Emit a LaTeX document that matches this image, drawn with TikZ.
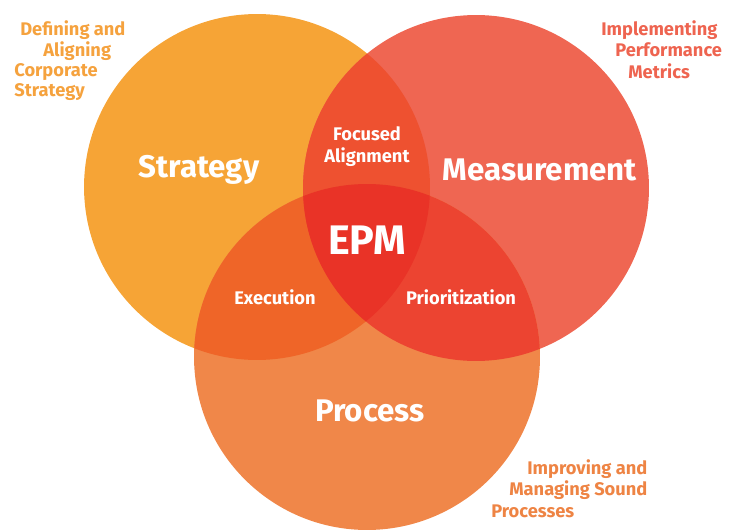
\documentclass[tikz,border=0pt]{standalone}
\usepackage{fontspec}
\setmainfont{Fira Sans}
\usetikzlibrary{positioning}
\definecolor{stratorange}{HTML}{F6A436}
\definecolor{measred}{HTML}{EF6652}
\definecolor{procorange}{HTML}{F08749}
\definecolor{focusred}{HTML}{EE5130}
\definecolor{execorange}{HTML}{EF6528}
\definecolor{priored}{HTML}{EC4431}
\definecolor{epmred}{HTML}{E93327}
\definecolor{strattext}{HTML}{F5A23E}
\definecolor{meastext}{HTML}{EE6450}
\definecolor{proctext}{HTML}{EE8444}

\begin{document}
\begin{tikzpicture}[
    x=0.02cm, y=-0.02cm,
    every node/.style={font=\bfseries, inner sep=0pt},
    bigname/.style={text=white, font=\bfseries\fontsize{17.8}{20}\selectfont},
    overlap/.style={text=white, font=\bfseries\fontsize{10.4}{12.5}\selectfont, align=center},
    note/.style={font=\bfseries\fontsize{10.4}{12}\selectfont, anchor=west}
]
    \useasboundingbox (0,0) rectangle (729,530);

    % circle centres
    \coordinate (S) at (257,187);
    \coordinate (M) at (476,188);
    \coordinate (P) at (367,357);

    % the three sets
    \fill[stratorange] (S) circle (3.46cm);
    \fill[measred] (M) circle (3.46cm);
    \fill[procorange] (P) circle (3.46cm);

    % pairwise overlaps
    \begin{scope}
        \clip (S) circle (3.46cm);
        \fill[focusred] (M) circle (3.46cm);
        \fill[execorange] (P) circle (3.46cm);
    \end{scope}
    \begin{scope}
        \clip (M) circle (3.46cm);
        \fill[priored] (P) circle (3.46cm);
    \end{scope}

    % centre where all three meet
    \begin{scope}
        \clip (S) circle (3.46cm);
        \clip (M) circle (3.46cm);
        \fill[epmred] (P) circle (3.46cm);
    \end{scope}

    % labels inside
    \node[bigname] (strategy) at (199,170) {Strategy};
    \node[bigname] (measurement) at (540,170) {Measurement};
    \node[bigname] (process) at (370,411) {Process};
    \node[text=white, font=\bfseries\fontsize{23.5}{26}\selectfont] (epm) at (367,240) {EPM};
    \node[overlap] (focused) at (367,147) {Focused\\Alignment};
    \node[overlap] (execution) at (275,297) {Execution};
    \node[overlap] (prioritization) at (461,297) {Prioritization};

    % notes outside
    \node[note, text=strattext] (def1) at (20,30) {Defining and};
    \node[note, text=strattext] (def2) at (43,51) {Aligning};
    \node[note, text=strattext] (def3) at (14,72) {Corporate};
    \node[note, text=strattext] (def4) at (14,92) {Strategy};

    \node[note, text=meastext] (imp1) at (601,30) {Implementing};
    \node[note, text=meastext] (imp2) at (615,50) {Performance};
    \node[note, text=meastext] (imp3) at (628,71) {Metrics};

    \node[note, text=proctext] (man1) at (527,469) {Improving and};
    \node[note, text=proctext] (man2) at (509,490) {Managing Sound};
    \node[note, text=proctext] (man3) at (491,511) {Processes};
\end{tikzpicture}
\end{document}
